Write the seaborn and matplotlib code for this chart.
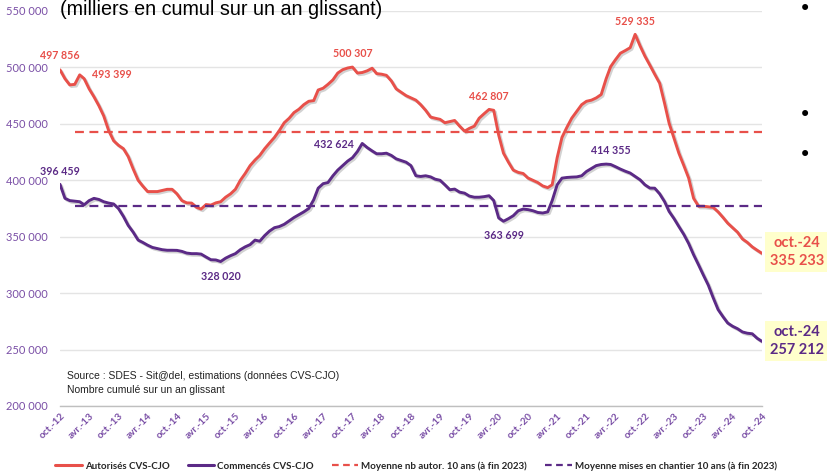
import pandas as pd
import numpy as np
import matplotlib.pyplot as plt
import matplotlib.patheffects as pe
from matplotlib.lines import Line2D
import seaborn as sns

# ------------------------------------------------------------
# Données : logements autorisés / commencés (milliers, cumul 12 mois)
# oct.-12 -> oct.-24, mensuel
# ------------------------------------------------------------
autorises = [
    497.856, 490, 484.5, 485, 493.399, 490, 481, 474, 466, 457,
    444, 435, 431, 428, 421, 410, 400, 395, 390, 390,
    390, 391, 392, 392, 388, 382, 380, 379.8, 376, 374.5,
    378.5, 378, 380, 381, 385, 388, 392, 400, 406, 413,
    418, 422, 428, 433, 438, 444, 451, 455, 460, 463,
    467, 470, 470.6, 480, 481.6, 485, 489, 495, 498, 499.5,
    500.307, 495, 495.5, 497, 499.3, 494.5, 494, 493, 488, 481,
    478, 475, 473, 471, 467, 462, 456, 455, 454, 451,
    452, 453, 448, 443.5, 446, 448, 455, 459, 462.807, 462,
    440, 424, 416, 409, 407, 406, 402, 400, 398, 395,
    393.5, 396, 420, 438, 447, 455, 461, 467, 470, 471,
    473, 476, 490, 500.7, 507, 512.6, 515, 517.5, 529.335, 519,
    510, 502, 494, 486, 468, 450.6, 437, 424, 413, 402,
    384, 377, 377, 376.5, 376, 372, 367, 362, 358, 354,
    348, 345, 341, 338, 335.233,
]
commences = [
    396.459, 384, 382, 381.5, 381, 378.3, 382, 384, 383, 381,
    379.8, 379, 375, 368, 360, 354, 347, 345, 342.5, 340.5,
    339.5, 338.5, 338, 338, 337.9, 337, 335.5, 335, 335, 334.6,
    332, 329.6, 329.4, 328.020, 331, 333.2, 335, 338.5, 341, 343,
    347, 346, 351, 355, 358, 359, 361, 364, 367, 369.5,
    372, 375, 382.7, 393, 397, 398, 404, 409, 413, 417,
    420, 425.5, 432.624, 429, 426, 423.5, 423.5, 424, 422, 419,
    417.5, 416, 413, 404, 403.4, 404, 403, 401, 400, 396,
    391.6, 392.2, 389.5, 388.6, 386, 385, 385, 385.5, 386.3, 382,
    366.6, 363.699, 366, 368.6, 373, 374.5, 374, 373, 371.5, 371,
    372, 382, 396, 401.9, 402.5, 402.8, 403, 404, 407.8, 410.5,
    413, 414, 414.355, 414, 412, 409.9, 408, 406.4, 403.4, 400.4,
    396, 393.1, 393, 388, 381, 372.4, 366, 359, 352, 344,
    334, 325, 316, 307, 296, 285.4, 279, 273.5, 270.6, 268.5,
    265.6, 264.5, 264, 260, 257.212,
]
moy_autor = 442.6      # moyenne 10 ans (à fin 2023)
moy_chantier = 376.8
debut_moyenne = 3      # la moyenne démarre en janv.-13

dates = pd.date_range('2012-10-01', periods=len(autorises), freq='MS')
df = pd.DataFrame({'date': dates,
                   'Autorisés': np.array(autorises) * 1000,
                   'Commencés': np.array(commences) * 1000})

# points annotés : (indice, décalage en pixels)
annot_aut = [(0, (0, 14)), (4, (32, 0)), (60, (0, 14)), (88, (0, 13)), (118, (0, 13))]
annot_com = [(0, (0, 13)), (33, (0, -15)), (62, (-28, -1)), (91, (0, -14)), (112, (5, 14))]

ROUGE = '#E8504A'
VIOLET = '#5B2A86'
VIOLET_TXT = '#7A4FA6'

W, H = 827, 472
def fx(x): return x / W
def fy(y): return 1 - y / H
def fmt(v): return f"{v:,.0f}".replace(",", " ")

sns.set_theme(style='white')
plt.rcParams['font.family'] = ['Lato', 'DejaVu Sans']

fig = plt.figure(figsize=(W / 100, H / 100), dpi=100)
ax = fig.add_axes([fx(60), fy(406), (762 - 60) / W, (406 - 11) / H])

ombre = [pe.SimpleLineShadow(offset=(1.2, -1.2), alpha=0.35, shadow_color='gray'), pe.Normal()]
sns.lineplot(data=df, x='date', y='Autorisés', color=ROUGE, lw=2.1, ax=ax,
             path_effects=ombre)
sns.lineplot(data=df, x='date', y='Commencés', color=VIOLET, lw=2.1, ax=ax,
             path_effects=ombre)
ax.hlines(moy_autor * 1000, dates[debut_moyenne], dates[-1], colors=ROUGE,
          linestyles=(0, (4, 2.5)), lw=1.6)
ax.hlines(moy_chantier * 1000, dates[debut_moyenne], dates[-1], colors=VIOLET,
          linestyles=(0, (4, 2.5)), lw=1.6)

ax.set_ylim(200000, 550000)
ax.set_xlim(dates[0], dates[-1])
ax.set_yticks(np.arange(200000, 550001, 50000))
ax.set_yticklabels([fmt(v) for v in np.arange(200000, 550001, 50000)],
                   color=VIOLET_TXT, fontsize=8)
ticks = dates[::6]
mois = {4: 'avr.', 10: 'oct.'}
ax.set_xticks(ticks)
ax.set_xticklabels([f"{mois[d.month]}-{d.year % 100:02d}" for d in ticks],
                   rotation=45, ha='right', rotation_mode='anchor',
                   color=VIOLET_TXT, fontsize=7.2, fontweight='bold')
ax.tick_params(axis='y', length=0, pad=9)
ax.tick_params(axis='x', length=0, pad=4)
ax.set_xlabel('')
ax.set_ylabel('')
ax.grid(axis='y', color='#E4E4E4', lw=1)
for s in ['top', 'right', 'left']:
    ax.spines[s].set_visible(False)
ax.spines['bottom'].set_color('#BFBFBF')
ax.spines['bottom'].set_linewidth(1)

for i, off in annot_aut:
    ax.annotate(fmt(autorises[i] * 1000), (dates[i], autorises[i] * 1000),
                xytext=off, textcoords='offset pixels', ha='center', va='center',
                color=ROUGE, fontsize=7.7, fontweight='bold')
for i, off in annot_com:
    ax.annotate(fmt(commences[i] * 1000), (dates[i], commences[i] * 1000),
                xytext=off, textcoords='offset pixels', ha='center', va='center',
                color=VIOLET, fontsize=7.7, fontweight='bold')

# encadrés de fin de série
fig.text(fx(797), fy(252), f"oct.-24\n{fmt(autorises[-1] * 1000)}", ha='center', va='center',
         color=ROUGE, fontsize=10.5, fontweight='bold', linespacing=1.3,
         bbox=dict(facecolor='#FFFFCC', edgecolor='none', pad=3.5))
fig.text(fx(797), fy(341), f"oct.-24\n{fmt(commences[-1] * 1000)}", ha='center', va='center',
         color=VIOLET, fontsize=10.5, fontweight='bold', linespacing=1.3,
         bbox=dict(facecolor='#FFFFCC', edgecolor='none', pad=3.5))

# titre et source
fig.text(fx(60), fy(0), "(milliers en cumul sur un an glissant)", ha='left', va='top',
         fontsize=14.2, family=['Liberation Sans Narrow', 'Liberation Sans'], color='black')
fig.text(fx(67), fy(371), "Source : SDES - Sit@del, estimations (données CVS-CJO)\nNombre cumulé sur un an glissant",
         ha='left', va='top', fontsize=7.5, linespacing=1.5,
         family=['Liberation Sans Narrow', 'Liberation Sans'], color='#222222')

# puces à droite
for y in [9, 115, 155]:
    fig.text(fx(805), fy(y), "•", ha='center', va='center', fontsize=15, color='black',
             family='DejaVu Sans')

handles = [Line2D([], [], color=ROUGE, lw=2.2),
           Line2D([], [], color=VIOLET, lw=2.2),
           Line2D([], [], color=ROUGE, lw=1.6, ls=(0, (3, 2))),
           Line2D([], [], color=VIOLET, lw=1.6, ls=(0, (3, 2)))]
labels = ['Autorisés CVS-CJO', 'Commencés CVS-CJO',
          'Moyenne nb autor. 10 ans (à fin 2023)',
          'Moyenne mises en chantier 10 ans (à fin 2023)']
leg = fig.legend(handles, labels, loc='center', bbox_to_anchor=(fx(416), fy(466)),
                 ncol=4, frameon=False, handlelength=2.7, handletextpad=0.3,
                 columnspacing=1.9, prop={'size': 7, 'weight': 'bold'})

fig.savefig('out.png', dpi=100, facecolor='white')
